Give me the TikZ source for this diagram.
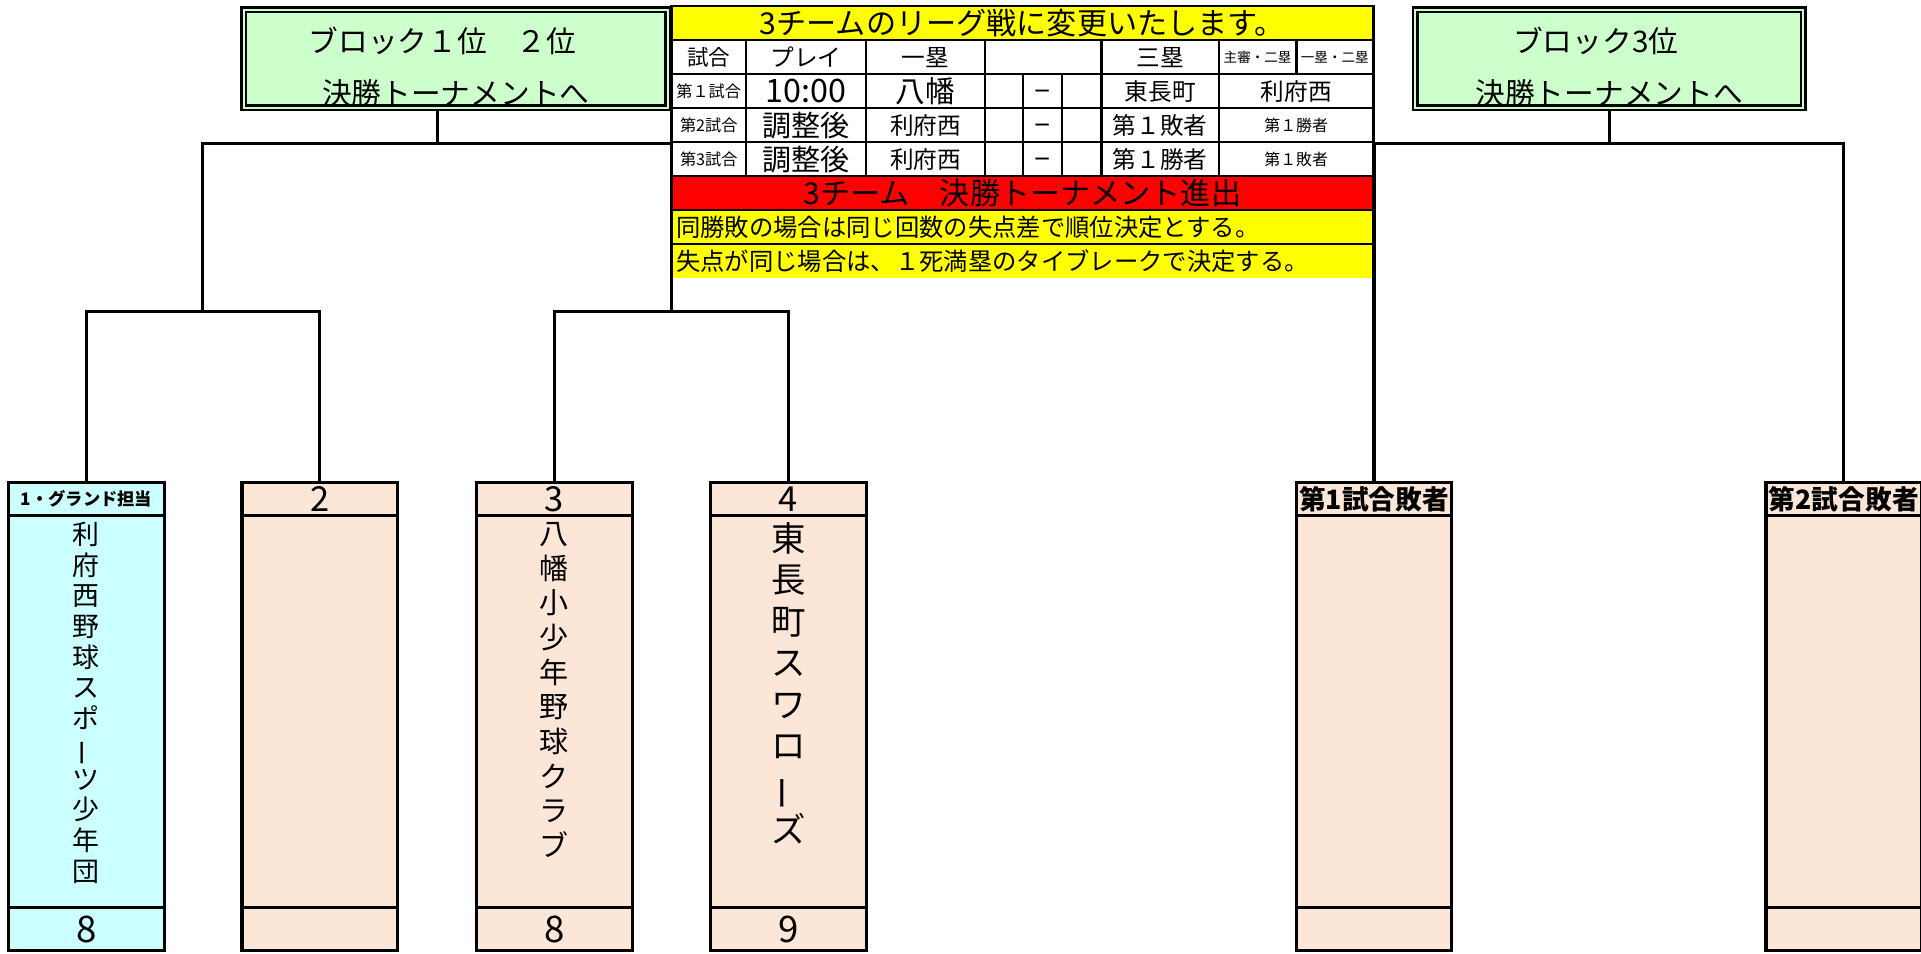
\documentclass[tikz,border=0pt]{standalone}
\usepackage{fontspec}
\setmainfont{Noto Sans CJK JP}
\usepackage{xcolor}
\usepackage{graphicx}
\usetikzlibrary{positioning, calc}

\definecolor{blkgreen}{HTML}{CCFFCC}
\definecolor{teamcyan}{HTML}{CCFFFF}
\definecolor{teampeach}{HTML}{FCE6D8}
\definecolor{noteyellow}{HTML}{FFFF00}
\definecolor{notered}{HTML}{FF0000}

\newcommand{\fsz}[1]{\fontsize{#1}{#1}\selectfont}
\newcommand{\tatebar}{\rotatebox[origin=c]{90}{ー}}

\tikzset{
  blockbox/.style={rectangle, draw, fill=blkgreen, double=blkgreen, double distance=1pt, line width=1.1pt, minimum width=#1, minimum height=1.6cm},
  blocktext/.style={font=\fsz{13.8}, inner sep=0pt},
  cell/.style={rectangle, draw, line width=1.2pt, minimum width=#1, minimum height=0.555cm, inner sep=0pt, outer sep=0pt},
  teamhead/.style={rectangle, draw, line width=1.5pt, minimum width=2.54cm, minimum height=0.54cm, inner sep=0pt, outer sep=0pt},
  teambody/.style={teamhead, minimum height=6.4cm},
  teamfoot/.style={teamhead, minimum height=0.7cm},
  teamname/.style={anchor=north, align=center, inner sep=0pt},
  bracket/.style={line width=1.4pt}
}

\begin{document}
\begin{tikzpicture}[x=0.02cm, y=-0.02cm]
    \useasboundingbox (0,0) rectangle (1568,778);

    % ブロック
    \node[blockbox=6.92cm] (blkA) at (372,48) {};
    \node[blocktext] (blkAtop) at ($(blkA.center)+(-11,-15)$) {ブロック１位　２位};
    \node[blocktext] (blkAbot) at ($(blkA.center)+(0,28)$) {決勝トーナメントへ};
    \node[blockbox=6.34cm] (blkB) at (1313.5,48) {};
    \node[blocktext] (blkBtop) at ($(blkB.center)+(-11,-15)$) {ブロック3位};
    \node[blocktext] (blkBbot) at ($(blkB.center)+(0,28)$) {決勝トーナメントへ};

    % リーグ戦の表
    \node[cell=11.46cm, fill=noteyellow, font=\fsz{14}] (title) at (834.5,18.9) {3チームのリーグ戦に変更いたします。};
    \node[cell=1.22cm, font=\fsz{10}] (hGame) at (578.5,46.6) {試合};
    \node[cell=1.96cm, font=\fsz{11}] (hPlay) at (658,46.6) {プレイ};
    \node[cell=1.94cm, font=\fsz{11}] (hFirst) at (755.5,46.6) {一塁};
    \node[cell=1.9cm] (hScore) at (851.5,46.6) {};
    \node[cell=1.92cm, font=\fsz{11}] (hThird) at (947,46.6) {三塁};
    \node[cell=1.26cm, font=\fsz{6.3}] (hUmpA) at (1026.5,46.6) {主審・二塁};
    \node[cell=1.26cm, font=\fsz{6.3}] (hUmpB) at (1089.5,46.6) {一塁・二塁};
    \foreach \gm/\pl/\fb/\tb/\um [count=\i] in {
        第１試合/{\fsz{15}10:00}/{\fsz{13.8}八幡}/東長町/{\fsz{11}利府西},
        第2試合/{\fsz{13.5}調整後}/利府西/第１敗者/{\fsz{7.4}第１勝者},
        第3試合/{\fsz{13.5}調整後}/利府西/第１勝者/{\fsz{7.4}第１敗者}}
    {
        \pgfmathsetmacro{\yc}{46.6+27.75*\i}
        \node[cell=1.22cm, font=\fsz{7.5}] (game\i) at (578.5,\yc) {\gm};
        \node[cell=1.96cm] (play\i) at (658,\yc) {\pl};
        \node[cell=1.94cm, font=\fsz{11}] (first\i) at (755.5,\yc) {\fb};
        \node[cell=0.62cm] (scA\i) at (819.5,\yc) {};
        \node[cell=0.64cm, font=\fsz{14}, text height=1.6ex, text depth=0.2ex] (scD\i) at (851,\yc) {–};
        \node[cell=0.64cm] (scB\i) at (883,\yc) {};
        \node[cell=1.92cm, font=\fsz{11}] (third\i) at (947,\yc) {\tb};
        \node[cell=2.52cm] (ump\i) at (1058,\yc) {\um};
    }
    \node[cell=11.46cm, fill=notered, font=\fsz{14}] (adv) at (834.5,157.6) {3チーム　決勝トーナメント進出};
    \node[cell=11.46cm, draw=none, fill=noteyellow, font=\fsz{11.3}, text width=11.3cm, align=left] (ruleB) at (834.5,213.1) {失点が同じ場合は、１死満塁のタイブレークで決定する。};
    \node[cell=11.46cm, fill=noteyellow, font=\fsz{11.3}, text width=11.3cm, align=left] (ruleA) at (834.5,185.4) {同勝敗の場合は同じ回数の失点差で順位決定とする。};

    % チーム枠
    \foreach \n/\x/\hd/\ft/\col in {
        1/70.5/{\bfseries\fsz{8}1・グランド担当}/8/teamcyan,
        2/261/2//teampeach,
        3/452.5/3/8/teampeach,
        4/643.5/4/9/teampeach,
        5/1121.5/{\bfseries\fsz{12.4}第1試合敗者}//teampeach,
        6/1505/{\bfseries\fsz{12.4}第2試合敗者}//teampeach}
    {
        \node[teamhead, fill=\col, font=\fsz{16}] (team\n) at (\x,407.5) {\hd};
        \node[teambody, fill=\col, below=0pt of team\n] (team\n m) {};
        \node[teamfoot, fill=\col, below=0pt of team\n m, font=\fsz{17}] (team\n b) {\ft};
    }
    \node[teamname, font=\fontsize{12.5}{14.2}\selectfont] (name1) at ($(team1m.north)+(0,5)$) {利\\府\\西\\野\\球\\ス\\ポ\\\tatebar\\ツ\\少\\年\\団};
    \node[teamname, font=\fontsize{13.5}{16.1}\selectfont] (name3) at ($(team3m.north)+(0,5)$) {八\\幡\\小\\少\\年\\野\\球\\ク\\ラ\\ブ};
    \node[teamname, font=\fontsize{16}{19.3}\selectfont] (name4) at ($(team4m.north)+(0,5)$) {東\\長\\町\\ス\\ワ\\ロ\\\tatebar\\ズ};

    % トーナメント線
    \coordinate (jA) at (165,254);
    \coordinate (jB) at (548,254);
    \coordinate (hA) at (357,117);
    \coordinate (hB) at (1313.5,117);
    \draw[bracket] (team1.north) |- (jA) -| (team2.north);
    \draw[bracket] (team3.north) |- (jB) -| (team4.north);
    \draw[bracket] (jA) |- (hA) -| (jB);
    \draw[bracket] (blkA.south -| hA) -- (hA);
    \draw[bracket] (team5.north) |- (hB) -| (team6.north);
    \draw[bracket] (blkB.south) -- (hB);
\end{tikzpicture}
\end{document}
